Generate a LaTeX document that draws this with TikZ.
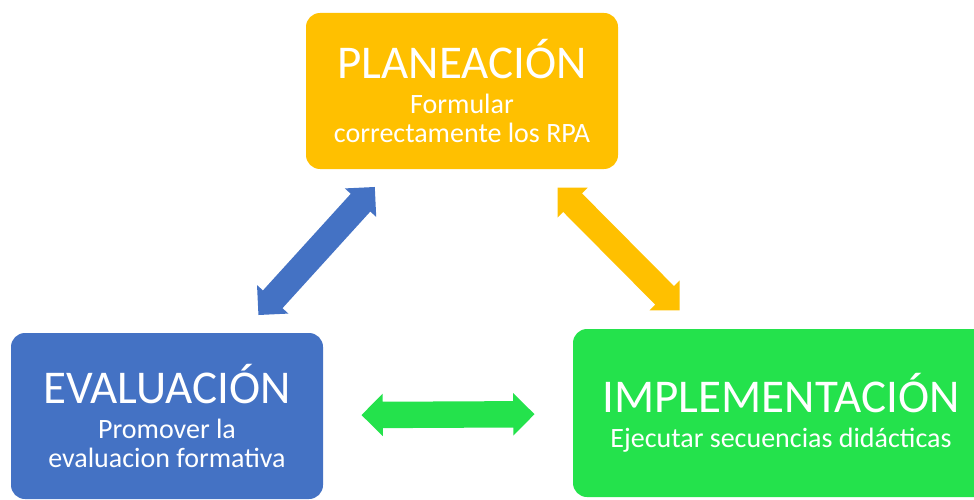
\documentclass[tikz,border=0pt]{standalone}
\usepackage{fontspec}
\setmainfont{Carlito}
\usetikzlibrary{shapes.arrows}
\definecolor{planyellow}{HTML}{FFC000}
\definecolor{evalblue}{HTML}{4472C4}
\definecolor{implgreen}{HTML}{24E24C}
\newcommand{\bigtitle}{\fontsize{47}{47}\selectfont}
\newcommand{\smalltext}{\fontsize{28}{29}\selectfont}
\begin{document}
\begin{tikzpicture}[x=1pt,y=-1pt,
    box/.style={rectangle,rounded corners=14pt,text=white,align=center,inner sep=0pt,font=\smalltext},
    fatarrow/.style={double arrow,double arrow head extend=8pt,inner xsep=0pt,inner ysep=13pt,
      minimum height=173pt,sloped}]
    \clip (0,0) rectangle (974,500);
    % the three stages
    \node[box,fill=planyellow,minimum width=312pt,minimum height=156pt] (plan) at (462,91)
        {\bigtitle PLANEACIÓN\\[6pt]Formular\\correctamente los RPA};
    \node[box,fill=evalblue,minimum width=312pt,minimum height=166pt] (eval) at (167,416)
        {\bigtitle EVALUACIÓN\\[6pt]Promover la\\evaluacion formativa};
    \node[box,fill=implgreen,minimum width=416pt,minimum height=168pt] (impl) at (781,413)
        {\bigtitle IMPLEMENTACIÓN\\[6pt]Ejecutar secuencias didácticas};
    % double arrows between them
    \path (plan) -- node[fatarrow,fill=evalblue] (pe) {} (eval);
    \path (plan) -- node[fatarrow,fill=planyellow] (pi) {} (impl);
    \path (eval) -- node[fatarrow,fill=implgreen] (ei) {} (impl);
\end{tikzpicture}
\end{document}
